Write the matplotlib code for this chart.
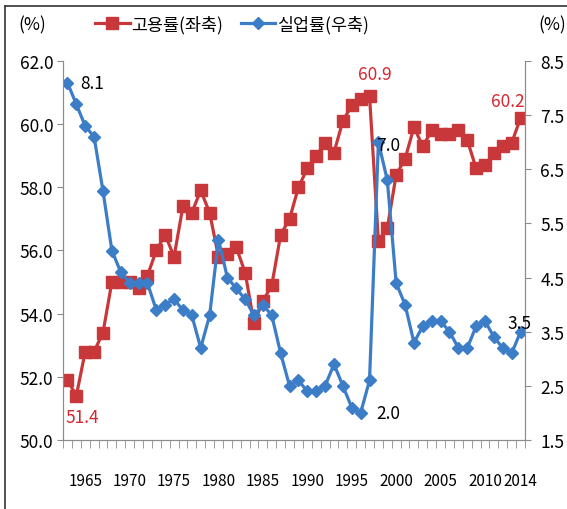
import numpy as np
import matplotlib
matplotlib.use("Agg")
import matplotlib.pyplot as plt
from matplotlib.ticker import FormatStrFormatter

plt.rcParams['font.family'] = ['Noto Sans CJK KR', 'DejaVu Sans']

# annual series, 1963-2014
years = list(range(1963, 2015))
emp_rate = [51.9, 51.4, 52.8, 52.8, 53.4, 55.0, 55.0, 55.0, 54.8, 55.2,
            56.0, 56.5, 55.8, 57.4, 57.2, 57.9, 57.2, 55.8, 55.9, 56.1,
            55.3, 53.7, 54.4, 54.9, 56.5, 57.0, 58.0, 58.6, 59.0, 59.4,
            59.1, 60.1, 60.6, 60.8, 60.9, 56.3, 56.7, 58.4, 58.9, 59.9,
            59.3, 59.8, 59.7, 59.7, 59.8, 59.5, 58.6, 58.7, 59.1, 59.3,
            59.4, 60.2]
unemp_rate = [8.1, 7.7, 7.3, 7.1, 6.1, 5.0, 4.6, 4.4, 4.4, 4.4,
              3.9, 4.0, 4.1, 3.9, 3.8, 3.2, 3.8, 5.2, 4.5, 4.3,
              4.1, 3.8, 4.0, 3.8, 3.1, 2.5, 2.6, 2.4, 2.4, 2.5,
              2.9, 2.5, 2.1, 2.0, 2.6, 7.0, 6.3, 4.4, 4.0, 3.3,
              3.6, 3.7, 3.7, 3.5, 3.2, 3.2, 3.6, 3.7, 3.4, 3.2,
              3.1, 3.5]
label_years = [1965, 1970, 1975, 1980, 1985, 1990, 1995, 2000, 2005, 2010, 2014]

red = "#C8383A"
blue = "#3C7DC8"
label_red = "#D6262E"
gray = "#8C8C8C"

x = np.arange(len(years))

fig = plt.figure(figsize=(5.67, 5.1), dpi=100)
ax = fig.add_axes([63 / 567, 69 / 510, 462 / 567, 379 / 510])
ax2 = ax.twinx()

l1, = ax.plot(x, emp_rate, color=red, lw=2.3, marker='s', ms=8,
              label='고용률(좌축)')
l2, = ax2.plot(x, unemp_rate, color=blue, lw=2.3, marker='D', ms=6,
               label='실업률(우축)')

ax.set_xlim(-0.5, len(years) - 0.5)
ax.set_ylim(50, 62)
ax.set_yticks(np.arange(50, 62.1, 2))
ax.yaxis.set_major_formatter(FormatStrFormatter('%.1f'))
ax2.set_ylim(1.5, 8.5)
ax2.set_yticks(np.arange(1.5, 8.6, 1))
ax2.yaxis.set_major_formatter(FormatStrFormatter('%.1f'))

ax.set_xticks([years.index(y) for y in label_years])
ax.set_xticklabels([str(y) for y in label_years])
ax.set_xticks(np.arange(-0.5, len(years), 1), minor=True)
ax.tick_params(axis='x', which='major', length=0, pad=23, labelsize=11)
ax.tick_params(axis='x', which='minor', length=6, color=gray, direction='out')
ax.tick_params(axis='y', length=4, color=gray, pad=3, labelsize=12.5)
ax2.tick_params(axis='y', length=4, color=gray, pad=7, labelsize=12.5)

for a in (ax, ax2):
    a.spines['top'].set_visible(False)
    for s in ('left', 'right', 'bottom'):
        a.spines[s].set_color(gray)

# value labels
def note(axis, i, vals, text, dx, dy, color, ha='center'):
    axis.annotate(text, (x[i], vals[i]), xytext=(dx, dy), textcoords='offset points',
                  ha=ha, va='center', fontsize=12.5, color=color)

note(ax2, 0, unemp_rate, '8.1', 9, 0, 'black', ha='left')
note(ax, 1, emp_rate, '51.4', 4, -15, label_red)
note(ax, 34, emp_rate, '60.9', 4, 16, label_red)
note(ax2, 35, unemp_rate, '7.0', 7, -2, 'black')
note(ax2, 33, unemp_rate, '2.0', 11, 0, 'black', ha='left')
note(ax, 51, emp_rate, '60.2', -9, 12, label_red)
note(ax2, 51, unemp_rate, '3.5', -1, 6, 'black')

fig.legend(handles=[l1, l2], loc='center left', bbox_to_anchor=(88 / 567, 1 - 25 / 510),
           ncol=2, frameon=False, fontsize=12.5, handlelength=2.0, handletextpad=0.1,
           columnspacing=1.0, borderaxespad=0)

fig.text(18 / 567, 1 - 25 / 510, '(%)', fontsize=12.5, va='center', ha='left')
fig.text(538 / 567, 1 - 25 / 510, '(%)', fontsize=12.5, va='center', ha='left')

# outer frame
fig.add_artist(plt.Line2D([5 / 567, 5 / 567], [0, 1 - 7 / 510], transform=fig.transFigure,
                          color='#333333', lw=1.2))
fig.add_artist(plt.Line2D([5 / 567, 1], [1 - 7 / 510, 1 - 7 / 510], transform=fig.transFigure,
                          color='#333333', lw=1.2))

fig.savefig('out.png', dpi=100)
